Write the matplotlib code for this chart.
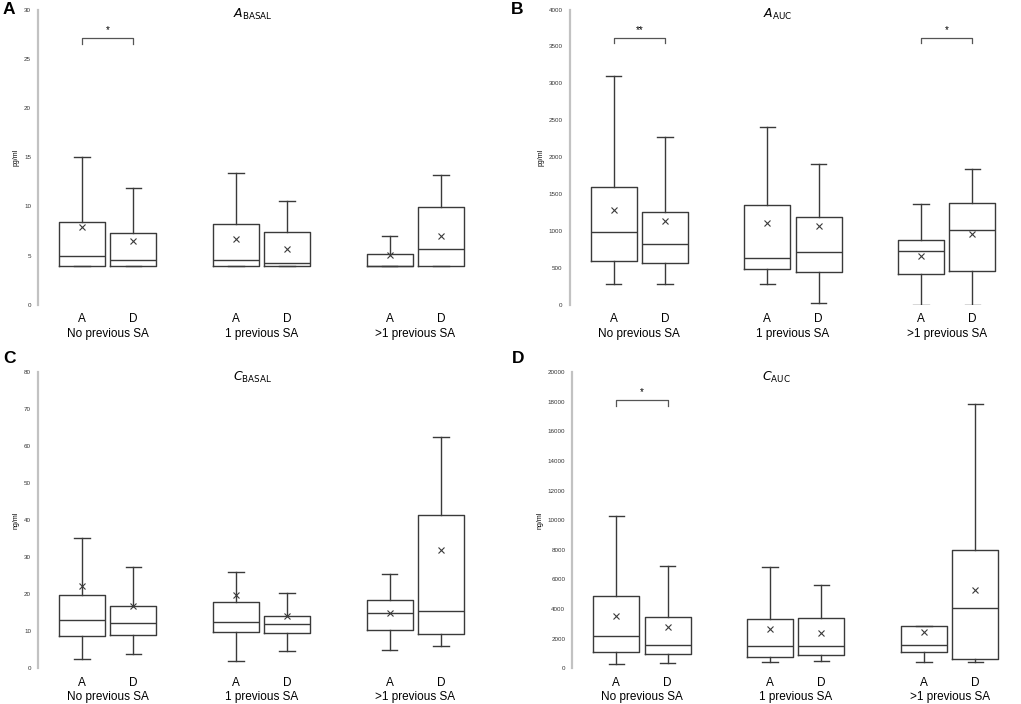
import matplotlib.pyplot as plt
import numpy as np

plt.rcParams['font.family'] = ['Liberation Sans', 'DejaVu Sans']

# ---------------- data ----------------
groups = ['No previous SA', '1 previous SA', '>1 previous SA']
sides = ['A', 'D', 'A', 'D', 'A', 'D']
positions = [1, 2, 4, 5, 7, 8]

# panel A : A_BASAL (pg/ml)
a_basal_whislo = [4.0, 4.0, 4.0, 4.0, 4.0, 4.0]
a_basal_q1 = [4.0, 4.0, 4.0, 4.0, 4.0, 4.0]
a_basal_med = [5.0, 4.6, 4.6, 4.3, 4.0, 5.7]
a_basal_q3 = [8.4, 7.3, 8.2, 7.4, 5.2, 10.0]
a_basal_whishi = [15.0, 11.9, 13.4, 10.6, 7.0, 13.2]
a_basal_mean = [7.9, 6.5, 6.7, 5.7, 5.1, 7.0]

# panel B : A_AUC (pg/ml)
a_auc_whislo = [290, 290, 290, 30, 5, 5]
a_auc_q1 = [595, 565, 485, 445, 425, 465]
a_auc_med = [990, 825, 640, 712, 726, 1010]
a_auc_q3 = [1598, 1255, 1357, 1190, 875, 1380]
a_auc_whishi = [3098, 2277, 2408, 1908, 1366, 1840]
a_auc_mean = [1285, 1132, 1109, 1064, 658, 965]

# panel C : C_BASAL (ng/ml)
c_basal_whislo = [2.6, 3.9, 2.1, 4.7, 5.0, 6.0]
c_basal_q1 = [8.7, 9.0, 9.8, 9.5, 10.3, 9.3]
c_basal_med = [13.0, 12.1, 12.6, 11.9, 15.0, 15.6]
c_basal_q3 = [19.7, 16.8, 17.9, 14.2, 18.4, 41.3]
c_basal_whishi = [35.3, 27.4, 26.1, 20.3, 25.4, 62.4]
c_basal_mean = [22.3, 16.8, 19.7, 14.2, 15.0, 31.9]

# panel D : C_AUC (ng/ml)
c_auc_whislo = [315, 335, 450, 495, 430, 405]
c_auc_q1 = [1080, 965, 785, 900, 1100, 650]
c_auc_med = [2180, 1600, 1485, 1530, 1550, 4095]
c_auc_q3 = [4905, 3490, 3330, 3375, 2835, 7965]
c_auc_whishi = [10300, 6905, 6860, 5625, 2835, 17820]
c_auc_mean = [3530, 2765, 2655, 2405, 2450, 5265]

# significance brackets: (first box, second box, height, stars)
a_basal_sig = [(0, 1, 27.1, '*')]
a_auc_sig = [(0, 1, 3620, '**'), (4, 5, 3620, '*')]
c_basal_sig = []
c_auc_sig = [(0, 1, 18100, '*')]

# ---------------- figure ----------------
W, H = 1021, 704
fig = plt.figure(figsize=(W / 100, H / 100), dpi=100)

line_col = '#3a3a3a'


def make_panel(rect, letter, letter_xy, title, ylabel, ymax, yticks, whislo, q1,
               med, q3, whishi, mean, sig, title_x):
    left, top, right, bottom = rect
    ax = fig.add_axes([left / W, 1 - bottom / H, (right - left) / W, (bottom - top) / H])
    stats = []
    for i in range(len(positions)):
        stats.append(dict(whislo=whislo[i], q1=q1[i], med=med[i], q3=q3[i],
                          whishi=whishi[i], mean=mean[i], fliers=[]))
    lp = dict(color=line_col, linewidth=1.0)
    ax.bxp(stats, positions=positions, widths=0.9, capwidths=0.3,
           showmeans=True, patch_artist=False,
           boxprops=lp, whiskerprops=lp, capprops=lp,
           medianprops=dict(color=line_col, linewidth=1.0),
           meanprops=dict(marker='x', markeredgecolor=line_col,
                          markersize=4, markeredgewidth=0.8))
    ax.set_xlim(0.14, 8.86)
    ax.set_ylim(0, ymax)
    ax.set_yticks(yticks)
    ax.set_yticklabels([str(t) for t in yticks], fontsize=4.5, color='#333333')
    ax.tick_params(axis='y', length=0, pad=5)
    ax.tick_params(axis='x', length=0, pad=6, labelsize=8.5)
    ax.set_xticks(positions)
    ax.set_xticklabels(sides)
    for s in ['top', 'right', 'bottom']:
        ax.spines[s].set_visible(False)
    ax.spines['left'].set_color('#c2c2c2')
    ax.spines['left'].set_linewidth(1.6)
    ax.set_ylabel(ylabel, fontsize=5, labelpad=3)

    # group labels
    for g, name in enumerate(groups):
        xc = (positions[2 * g] + positions[2 * g + 1]) / 2
        ax.text(xc, -0.098, name, transform=ax.get_xaxis_transform(),
                ha='center', va='center', fontsize=8.5)

    # brackets
    for i, j, h, stars in sig:
        x1, x2 = positions[i], positions[j]
        d = ymax * 0.02
        ax.plot([x1, x1, x2, x2], [h - d, h, h, h - d], color='#555555', lw=0.9)
        ax.text((x1 + x2) / 2, h + ymax * 0.01, stars, ha='center', va='bottom',
                fontsize=7)

    ax.text(title_x, 0.982, title, transform=ax.transAxes, ha='center',
            va='center', fontsize=9)
    fig.text(letter_xy[0] / W, 1 - letter_xy[1] / H, letter, fontsize=12.5,
             fontweight='bold', ha='left', va='center')
    return ax


make_panel((38, 9.5, 485, 305), 'A', (3, 10), r'$A_{\mathrm{BASAL}}$', 'pg/ml', 30,
           [0, 5, 10, 15, 20, 25, 30], a_basal_whislo, a_basal_q1, a_basal_med,
           a_basal_q3, a_basal_whishi, a_basal_mean, a_basal_sig, 0.48)
make_panel((569.5, 9.5, 1016.5, 305), 'B', (511, 10), r'$A_{\mathrm{AUC}}$', 'pg/ml',
           4000, [0, 500, 1000, 1500, 2000, 2500, 3000, 3500, 4000], a_auc_whislo,
           a_auc_q1, a_auc_med, a_auc_q3, a_auc_whishi, a_auc_mean, a_auc_sig, 0.466)
make_panel((38, 372, 485, 668.3), 'C', (3, 359), r'$C_{\mathrm{BASAL}}$', 'ng/ml', 80,
           [0, 10, 20, 30, 40, 50, 60, 70, 80], c_basal_whislo, c_basal_q1,
           c_basal_med, c_basal_q3, c_basal_whishi, c_basal_mean, c_basal_sig, 0.48)
make_panel((572.3, 372, 1019.3, 668.3), 'D', (512, 359), r'$C_{\mathrm{AUC}}$', 'ng/ml',
           20000, [0, 2000, 4000, 6000, 8000, 10000, 12000, 14000, 16000, 18000, 20000],
           c_auc_whislo, c_auc_q1, c_auc_med, c_auc_q3, c_auc_whishi, c_auc_mean,
           c_auc_sig, 0.457)

fig.savefig('out.png', dpi=100)
